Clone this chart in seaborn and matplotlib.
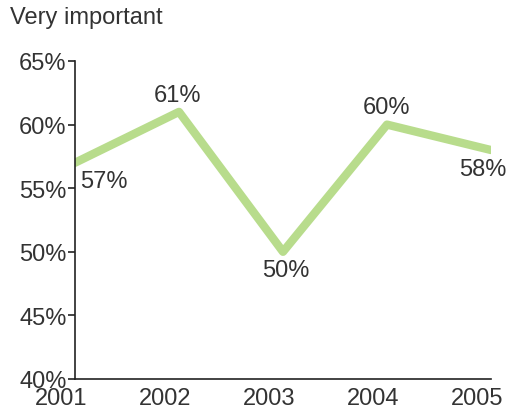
import matplotlib
matplotlib.use("Agg")
import matplotlib.pyplot as plt
import matplotlib.transforms as mtrans
import seaborn as sns
import pandas as pd

years = [2001, 2002, 2003, 2004, 2005]
values = [57, 61, 50, 60, 58]
labels = ["57%", "61%", "50%", "60%", "58%"]
yticks = [40, 45, 50, 55, 60, 65]

sns.set_style("white")
plt.rcParams['font.family'] = ['Liberation Sans', 'DejaVu Sans']

df = pd.DataFrame({'year': years, 'value': values})

fig = plt.figure(figsize=(5.14, 4.14), dpi=100)
ax = fig.add_axes([75 / 514, 34 / 414, 416 / 514, 318 / 414])

sns.lineplot(data=df, x='year', y='value', ax=ax, color='#b8dc8c', linewidth=6)

FS = 17
ax.set_xlim(2001, 2005)
ax.set_ylim(40, 65)
ax.set_yticks(yticks)
ax.set_yticklabels([f"{t}%" for t in yticks], fontsize=FS, color='#333333')
ax.set_xticks(years)
ax.set_xticklabels([str(y) for y in years], fontsize=FS, color='#333333')
ax.tick_params(axis='y', length=5, width=1.2, color='#222222', pad=1, left=True)
ax.tick_params(axis='x', length=0, pad=6)
offset = mtrans.ScaledTranslation(-14 / 100, 0, fig.dpi_scale_trans)
for lab in ax.get_xticklabels():
    lab.set_transform(lab.get_transform() + offset)
ax.set_xlabel('')
ax.set_ylabel('')

sns.despine(ax=ax)
for s in ['left', 'bottom']:
    ax.spines[s].set_color('#222222')
    ax.spines[s].set_linewidth(1.2)

# data labels
offsets = [(4, -13, 'left'), (-1, 12, 'center'), (2, -13, 'center'), (0, 13, 'center'), (-6, -14, 'center')]
for x, v, lab, (dx, dy, ha) in zip(years, values, labels, offsets):
    ax.annotate(lab, (x, v), xytext=(dx, dy), textcoords='offset points',
                ha=ha, va='center', fontsize=FS, color='#333333', annotation_clip=False)

fig.text(10 / 514, 1 - 18 / 414, "Very important", fontsize=FS, color='#333333', va='center')

fig.savefig("out.png", dpi=100)
